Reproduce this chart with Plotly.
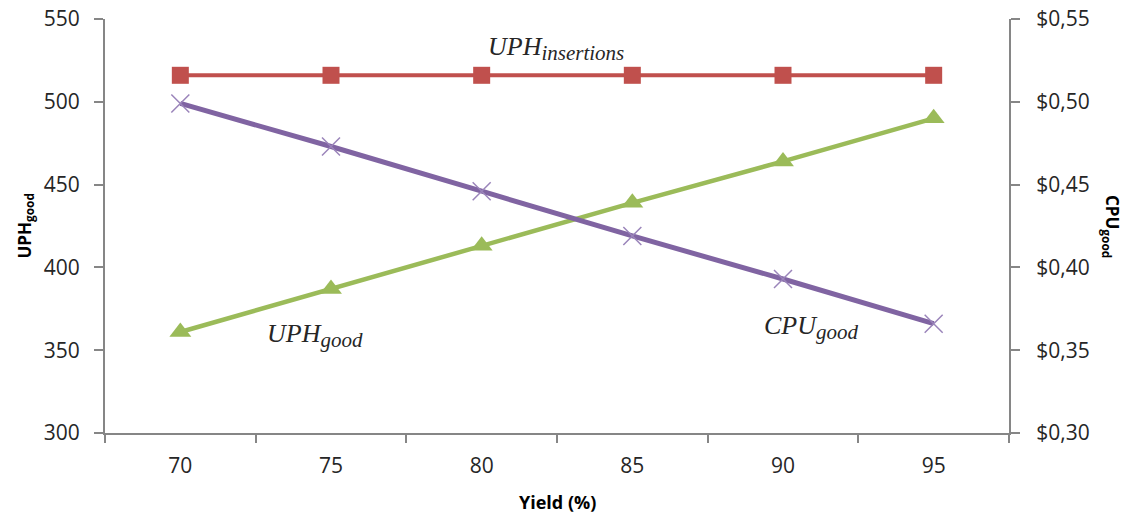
import plotly.graph_objects as go

# Yield categories and series values
yield_pct = ["70", "75", "80", "85", "90", "95"]
uph_insertions = [516, 516, 516, 516, 516, 516]
uph_good = [361, 387, 413, 439, 464, 490]
cpu_good = [0.499, 0.473, 0.446, 0.419, 0.393, 0.366]

left_ticks = [300, 350, 400, 450, 500, 550]
right_ticks = [0.30, 0.35, 0.40, 0.45, 0.50, 0.55]
right_tick_text = ["$0,30", "$0,35", "$0,40", "$0,45", "$0,50", "$0,55"]

RED = "#C0504D"
GREEN = "#9BBB59"
PURPLE = "#8064A2"
AXIS = "#868686"
TEXT = "#262626"
SANS = "Open Sans, DejaVu Sans, sans-serif"
SERIF = "Liberation Serif, DejaVu Serif, serif"

fig = go.Figure()

fig.add_trace(go.Scatter(
    x=yield_pct, y=uph_insertions, mode="lines+markers", name="UPH insertions",
    line=dict(color=RED, width=4),
    marker=dict(symbol="square", size=17, color=RED),
))
fig.add_trace(go.Scatter(
    x=yield_pct, y=uph_good, mode="lines+markers", name="UPH good",
    line=dict(color=GREEN, width=4.5),
    marker=dict(symbol="triangle-up", size=19, color=GREEN),
))
fig.add_trace(go.Scatter(
    x=yield_pct, y=cpu_good, mode="lines+markers", name="CPU good", yaxis="y2",
    line=dict(color=PURPLE, width=5),
    marker=dict(symbol="x-thin-open", size=18, color="#9A84BA",
                line=dict(color="#9A84BA", width=1.5)),
))


def series_label(main, sub):
    return '<i>%s<sub><span style="font-size:21px">%s</span></sub></i>' % (main, sub)


annotations = [
    dict(x=yield_pct.index("85"), y=532, xref="x", yref="y", xshift=-76,
         text=series_label("UPH", "insertions"),
         showarrow=False, font=dict(family=SERIF, size=26, color=TEXT)),
    dict(x=yield_pct.index("75"), y=359, xref="x", yref="y", xshift=-16,
         text=series_label("UPH", "good"),
         showarrow=False, font=dict(family=SERIF, size=26, color=TEXT)),
    dict(x=yield_pct.index("90"), y=364, xref="x", yref="y", xshift=28,
         text=series_label("CPU", "good"),
         showarrow=False, font=dict(family=SERIF, size=26, color=TEXT)),
    dict(x=-0.105, y=0.5, xref="paper", yref="paper", textangle=-90,
         text="<b>UPH<sub>good</sub></b>", showarrow=False,
         font=dict(family=SANS, size=17, color="#000000")),
    dict(x=1.13, y=0.5, xref="paper", yref="paper", textangle=90,
         text="<b>CPU<sub>good</sub></b>", showarrow=False,
         font=dict(family=SANS, size=17, color="#000000")),
    dict(x=0.5, y=-0.2, xref="paper", yref="paper",
         text="<b>Yield (%)</b>", showarrow=False,
         font=dict(family=SANS, size=18, color="#000000")),
]

fig.update_layout(
    width=1129, height=524,
    margin=dict(l=105, r=120, t=19, b=91, autoexpand=False),
    paper_bgcolor="white", plot_bgcolor="white",
    showlegend=False,
    separators=",.",
    font=dict(family=SANS, size=21, color=TEXT),
    xaxis=dict(
        type="category", range=[-0.5, 5.5], tickson="boundaries",
        showgrid=False, zeroline=False, automargin=False,
        showline=True, linecolor=AXIS, linewidth=2,
        ticks="outside", ticklen=8, tickcolor=AXIS, tickwidth=1.5,
        ticklabelstandoff=13,
        tickfont=dict(family=SANS, size=21, color=TEXT),
    ),
    yaxis=dict(
        range=[300, 550], tickvals=left_ticks,
        showgrid=False, zeroline=False, automargin=False,
        showline=True, linecolor=AXIS, linewidth=2,
        ticks="outside", ticklen=9, tickcolor=AXIS, tickwidth=1.5,
        ticklabelstandoff=10,
        tickfont=dict(family=SANS, size=21, color=TEXT),
    ),
    yaxis2=dict(
        overlaying="y", side="right",
        range=[0.30, 0.55], tickmode="array",
        tickvals=right_ticks, ticktext=right_tick_text,
        showgrid=False, zeroline=False, automargin=False,
        showline=True, linecolor=AXIS, linewidth=2,
        ticks="outside", ticklen=9, tickcolor=AXIS, tickwidth=1.5,
        ticklabelstandoff=12,
        tickfont=dict(family=SANS, size=21, color=TEXT),
    ),
    annotations=annotations,
)

fig.write_html("out.html")
